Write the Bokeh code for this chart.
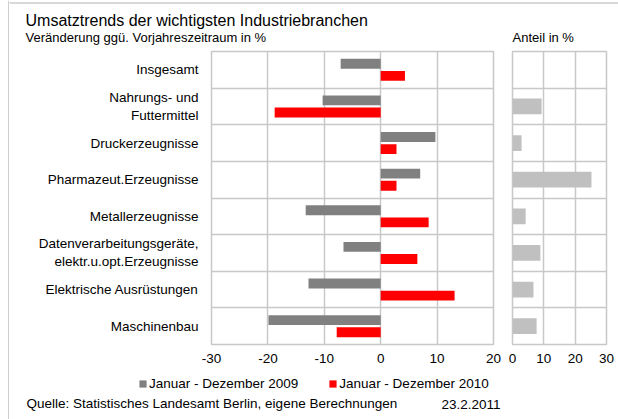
from bokeh.plotting import figure
from bokeh.models import Range1d, FixedTicker, Label, Legend, LegendItem, Span
from bokeh.layouts import row, column
from bokeh.embed import file_html
from bokeh.resources import INLINE

# ---------------- data ----------------
categories = [
    "Insgesamt",
    "Nahrungs- und\nFuttermittel",
    "Druckerzeugnisse",
    "Pharmazeut.Erzeugnisse",
    "Metallerzeugnisse",
    "Datenverarbeitungsgeräte,\nelektr.u.opt.Erzeugnisse",
    "Elektrische Ausrüstungen",
    "Maschinenbau",
]
change_2009 = [-7.1, -10.3, 9.7, 7.0, -13.3, -6.6, -12.8, -19.9]
change_2010 = [4.3, -18.8, 2.8, 2.8, 8.5, 6.5, 13.1, -7.8]
share = [float("nan"), 9.3, 2.9, 25.2, 4.2, 8.9, 6.7, 7.7]
change_ticks = [-30, -20, -10, 0, 10, 20]
share_ticks = [0, 10, 20, 30]
series_labels = ["Januar - Dezember 2009", "Januar - Dezember 2010"]
title_text = "Umsatztrends der wichtigsten Industriebranchen"
subtitle_text = "Veränderung ggü. Vorjahreszeitraum in %"
share_title = "Anteil in %"
source_text = "Quelle: Statistisches Landesamt Berlin, eigene Berechnungen"
date_text = "23.2.2011"

# ---------------- styling ----------------
FONT = "Liberation Sans"
GRID = "#c8c8c8"
BORDER = "#cccccc"
C2009 = "#808080"
C2010 = "#ff0000"
CSHARE = "#c0c0c0"
STRIP = 9
W = 618 - STRIP
HEAD_H = 49
MID_H = 325
FOOT_H = 45
LEFT_W = 493

n = len(categories)
ypos = [n - i - 0.5 for i in range(n)]
y_2009 = [y + 0.165 for y in ypos]
y_2010 = [y - 0.165 for y in ypos]


def style(p, ticks):
    p.xaxis.ticker = FixedTicker(ticks=ticks)
    p.xaxis.major_label_overrides = {t: str(t) for t in ticks}
    p.xaxis.axis_line_color = None
    p.xaxis.major_tick_line_color = None
    p.xaxis.minor_tick_line_color = None
    p.xaxis.major_tick_out = 0
    p.xaxis.major_label_standoff = 9
    p.xaxis.major_label_text_font = FONT
    p.xaxis.major_label_text_font_size = "13.5px"
    p.xaxis.major_label_text_color = "#000000"
    p.xgrid.ticker = FixedTicker(ticks=ticks)
    p.ygrid.ticker = FixedTicker(ticks=list(range(n + 1)))
    for g in (p.xgrid, p.ygrid):
        g.grid_line_color = GRID
        g.grid_line_width = 1.5
    p.outline_line_color = GRID
    p.outline_line_width = 1.5
    p.background_fill_color = "white"
    p.border_fill_color = "white"


def text_panel(width, height):
    f = figure(width=width, height=height, output_backend="svg",
               toolbar_location=None, x_range=Range1d(0, width),
               y_range=Range1d(0, height), x_axis_location=None,
               y_axis_location=None, min_border=0)
    f.outline_line_color = None
    f.grid.visible = False
    f.border_fill_color = "white"
    f.background_fill_color = "white"
    return f


def add_text(f, x, y, text, size="13.5px", align="left"):
    f.add_layout(Label(x=x, y=y, text=text, text_align=align,
                       text_baseline="middle", text_font=FONT,
                       text_font_size=size, text_color="#000000"))


# ---------------- outer frame (left edge strip) ----------------
strip = text_panel(STRIP, HEAD_H + MID_H + FOOT_H)
strip.add_layout(Span(location=STRIP - 0.7, dimension="height",
                      line_color=BORDER, line_width=1.5))

# ---------------- header ----------------
head = text_panel(W, HEAD_H)
head.add_layout(Span(location=HEAD_H - 2.5, dimension="width",
                     line_color=BORDER, line_width=1.5))
add_text(head, 25 - STRIP, HEAD_H - 20, title_text, size="16px")
add_text(head, 25 - STRIP, HEAD_H - 37, subtitle_text, size="13px")
add_text(head, 512 - STRIP, HEAD_H - 37, share_title, size="13px")

# ---------------- left chart ----------------
p = figure(width=LEFT_W, height=MID_H, output_backend="svg",
           toolbar_location=None, x_range=Range1d(-30, 20),
           y_range=Range1d(0, n), min_border_left=211 - STRIP,
           min_border_right=9, min_border_top=2, min_border_bottom=30)
style(p, change_ticks)
p.yaxis.ticker = FixedTicker(ticks=ypos)
p.yaxis.major_label_overrides = {y: name for y, name in zip(ypos, categories)}
p.yaxis.axis_line_color = None
p.yaxis.major_tick_line_color = None
p.yaxis.minor_tick_line_color = None
p.yaxis.major_tick_out = 0
p.yaxis.major_label_standoff = 13
p.yaxis.major_label_text_font = FONT
p.yaxis.major_label_text_font_size = "13.5px"
p.yaxis.major_label_text_color = "#000000"

p.hbar(y=y_2009, left=0, right=change_2009, height=0.27,
       color=C2009, line_color=None)
p.hbar(y=y_2010, left=0, right=change_2010, height=0.27,
       color=C2010, line_color=None)

# ---------------- right chart ----------------
q = figure(width=W - LEFT_W, height=MID_H, output_backend="svg",
           toolbar_location=None, x_range=Range1d(0, 30), y_range=Range1d(0, n),
           min_border_left=10, min_border_right=12, min_border_top=2,
           min_border_bottom=30)
style(q, share_ticks)
q.yaxis.visible = False
q.hbar(y=ypos, left=0, right=share, height=0.43, color=CSHARE, line_color=None)

# ---------------- footer (legend + source) ----------------
foot = text_panel(W, FOOT_H)
k09 = foot.hbar(y=y_2009, left=0, right=change_2009, height=0.27,
                color=C2009, line_color=None, visible=False)
k10 = foot.hbar(y=y_2010, left=0, right=change_2010, height=0.27,
                color=C2010, line_color=None, visible=False)
legend = Legend(items=[LegendItem(label=series_labels[0], renderers=[k09]),
                       LegendItem(label=series_labels[1], renderers=[k10])],
                location=(138 - STRIP, FOOT_H - 17), orientation="horizontal",
                glyph_width=9, glyph_height=9, label_height=16,
                label_standoff=2, spacing=30, padding=0, margin=0,
                border_line_alpha=0, background_fill_alpha=0,
                inactive_fill_alpha=0, click_policy="none",
                label_text_font=FONT, label_text_font_size="13.5px",
                label_text_color="#000000")
foot.add_layout(legend)
add_text(foot, 26 - STRIP, FOOT_H - 29, source_text)
add_text(foot, 441 - STRIP, FOOT_H - 30, date_text)

layout = row(strip,
             column(head, row(p, q, spacing=0), foot, spacing=0),
             spacing=0)
open("out.html", "w").write(file_html(layout, INLINE))
